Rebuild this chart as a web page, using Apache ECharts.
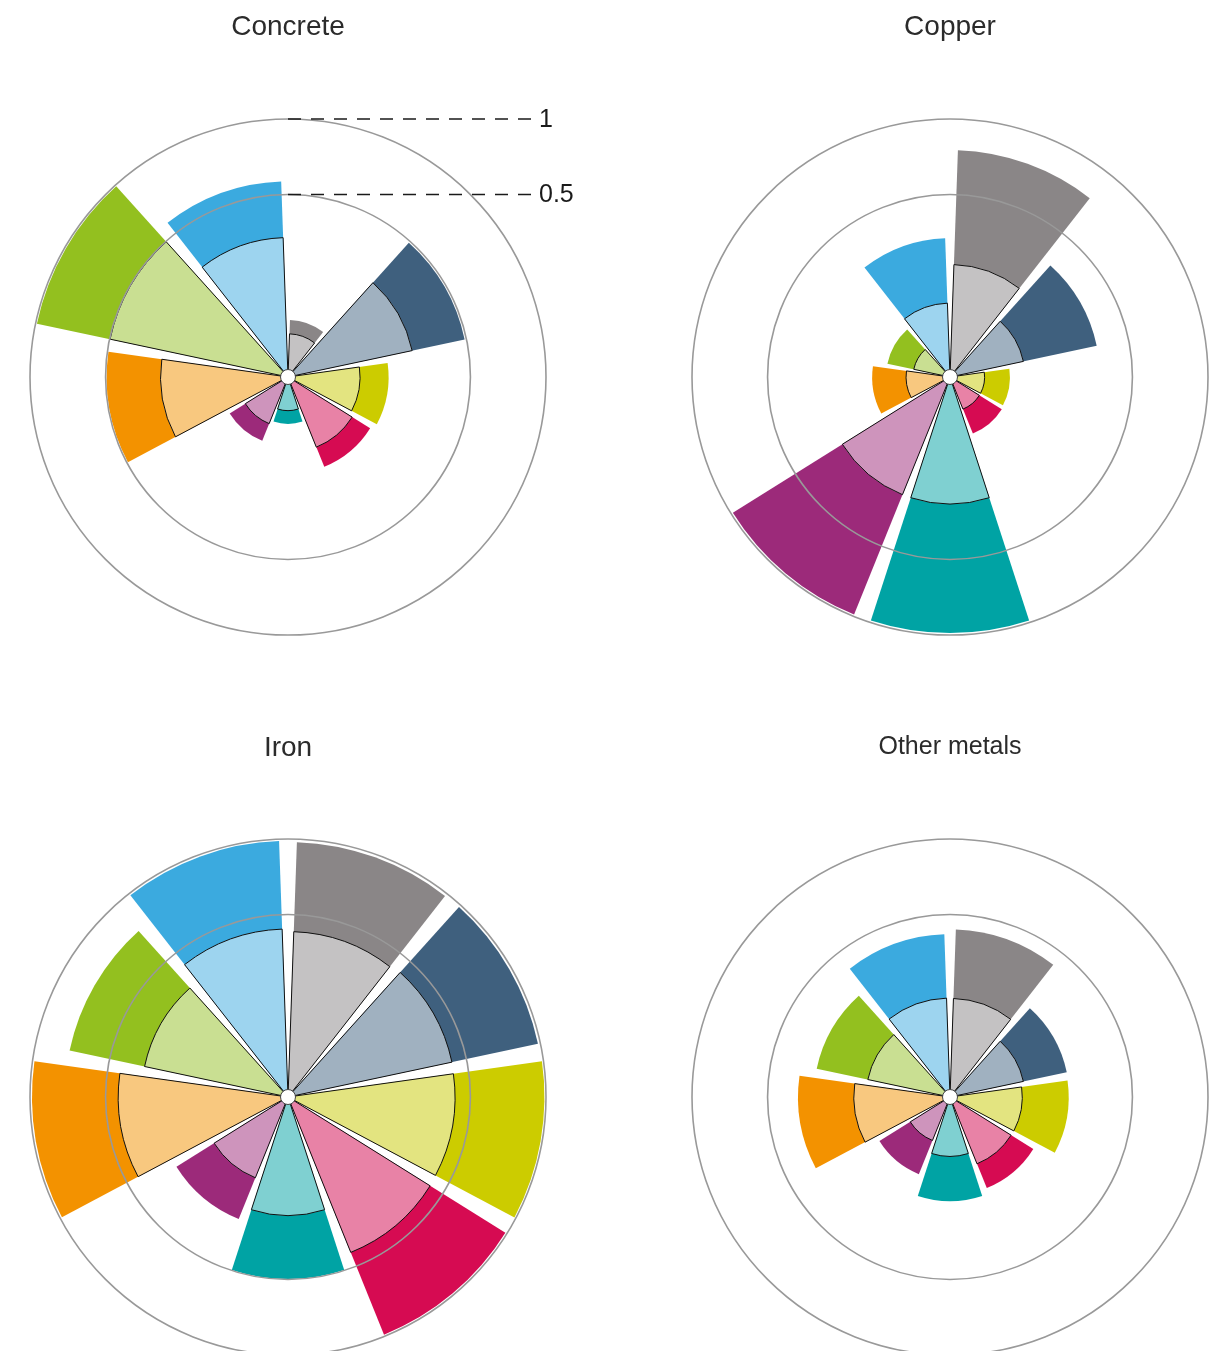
<!DOCTYPE html>
<html>
<head>
<meta charset="utf-8">
<script src="https://cdn.jsdelivr.net/npm/echarts@6/dist/echarts.min.js"></script>
<style>
html,body{margin:0;padding:0;background:#ffffff;}
#chart{width:1220px;height:1351px;}
</style>
</head>
<body>
<div id="chart"></div>
<script>
// ---- data (values on an area scale: ring "0.5" and ring "1") ----
const categories = ['grey', 'slate', 'yellow', 'crimson', 'teal', 'purple', 'orange', 'green', 'blue'];
const panelTitles = ['Concrete', 'Copper', 'Iron', 'Other metals'];

const concreteOuter = [0.049, 0.49, 0.152, 0.141, 0.033, 0.071, 0.494, 0.99, 0.575];
const concreteInner = [0.028, 0.242, 0.078, 0.086, 0.017, 0.038, 0.244, 0.497, 0.292];

const copperOuter = [0.774, 0.338, 0.054, 0.056, 0.985, 0.985, 0.091, 0.0615, 0.29];
const copperInner = [0.19, 0.0845, 0.018, 0.018, 0.242, 0.242, 0.029, 0.0206, 0.082];

const ironOuter = [0.977, 0.981, 0.988, 0.987, 0.497, 0.26, 0.985, 0.749, 0.985];
const ironInner = [0.411, 0.422, 0.419, 0.422, 0.211, 0.114, 0.433, 0.323, 0.424];

const otherOuter = [0.4225, 0.214, 0.2116, 0.145, 0.163, 0.104, 0.347, 0.279, 0.398];
const otherInner = [0.146, 0.0845, 0.0785, 0.078, 0.053, 0.033, 0.139, 0.106, 0.147];

const ringValues = [0.5, 1];
const ringLabels = ['0.5', '1'];

// ---- styles ----
const darkColors  = ['#8a8687', '#3f607e', '#cccc00', '#d60b52', '#00a3a4', '#9c2a7a', '#f39200', '#93c01f', '#3baadf'];
const lightColors = ['#c4c2c3', '#a0b1c0', '#e3e480', '#e882a6', '#7fd0d1', '#ce94bc', '#f8c87f', '#c9df92', '#9dd4ef'];

// ---- layout ----
const R = 258;
const layout = [
  { center: [288, 377], titleTop: 13, titleSize: 28 },
  { center: [950, 377], titleTop: 13, titleSize: 28 },
  { center: [288, 1097], titleTop: 734, titleSize: 28 },
  { center: [950, 1097], titleTop: 735, titleSize: 25 }
];
const outerSets = [concreteOuter, copperOuter, ironOuter, otherOuter];
const innerSets = [concreteInner, copperInner, ironInner, otherInner];

// area-proportional radius scale
const toRadius = v => Math.sqrt(v);

const FONT = "'Liberation Sans', Arial, Helvetica, sans-serif";
const chart = echarts.init(document.getElementById('chart'), null, { renderer: 'canvas' });

const series = [];
layout.forEach((L, i) => {
  series.push({
    type: 'bar', coordinateSystem: 'polar', polarIndex: i,
    data: outerSets[i].map(toRadius),
    barCategoryGap: '10%', barGap: '-100%',
    itemStyle: { color: p => darkColors[p.dataIndex], borderWidth: 0 },
    z: 2, silent: true
  });
  series.push({
    type: 'bar', coordinateSystem: 'polar', polarIndex: i,
    data: innerSets[i].map(toRadius),
    barCategoryGap: '10%', barGap: '-100%',
    itemStyle: { color: p => lightColors[p.dataIndex], borderColor: '#111111', borderWidth: 1 },
    z: 3, silent: true
  });
  series.push({
    type: 'scatter', coordinateSystem: 'polar', polarIndex: i,
    data: [[0, 0]], symbol: 'circle', symbolSize: 15,
    itemStyle: { color: '#ffffff', borderColor: '#444444', borderWidth: 1, opacity: 1 },
    z: 10, silent: true
  });
});

chart.setOption({
  animation: false,
  backgroundColor: '#ffffff',
  title: layout.map((L, i) => ({
    text: panelTitles[i],
    left: L.center[0], top: L.titleTop, textAlign: 'center', padding: 0,
    textStyle: { fontFamily: FONT, fontSize: L.titleSize, fontWeight: 'normal', color: '#2b2b2b' }
  })),
  polar: layout.map(L => ({ center: L.center, radius: [0, R] })),
  angleAxis: layout.map((L, i) => ({
    polarIndex: i, type: 'category', data: categories,
    startAngle: 90, clockwise: true, boundaryGap: true,
    axisLine: { show: false }, axisTick: { show: false },
    axisLabel: { show: false }, splitLine: { show: false }
  })),
  radiusAxis: layout.map((L, i) => ({
    polarIndex: i, type: 'value', min: 0, max: 1, z: 5,
    axisLine: { show: false }, axisLabel: { show: false },
    axisTick: { show: false, customValues: ringValues.map(toRadius) },
    splitLine: { show: true, lineStyle: { color: '#999999', width: 1.6 } },
    splitArea: { show: false }
  })),
  series: series
});

// dashed ring annotations on the first panel, positioned from the polar scale
const dotSeries = 2;
const c0 = chart.convertToPixel({ seriesIndex: dotSeries }, [0, 0]);
const graphics = [];
ringValues.forEach((v, k) => {
  const p = chart.convertToPixel({ seriesIndex: dotSeries }, [toRadius(v), 0]);
  const d = Math.hypot(p[0] - c0[0], p[1] - c0[1]);
  const y = c0[1] - d;
  graphics.push({
    type: 'line', z: 20,
    shape: { x1: c0[0], y1: y, x2: c0[0] + 245, y2: y },
    style: { stroke: '#1a1a1a', lineWidth: 1.5, lineDash: [13, 10] }
  });
  graphics.push({
    type: 'text', z: 20, x: c0[0] + 251, y: y + 1,
    style: { text: ringLabels[k], fontFamily: FONT, fontSize: 25, fill: '#1a1a1a', align: 'left', verticalAlign: 'middle' }
  });
});
chart.setOption({ graphic: graphics });
</script>
</body>
</html>
